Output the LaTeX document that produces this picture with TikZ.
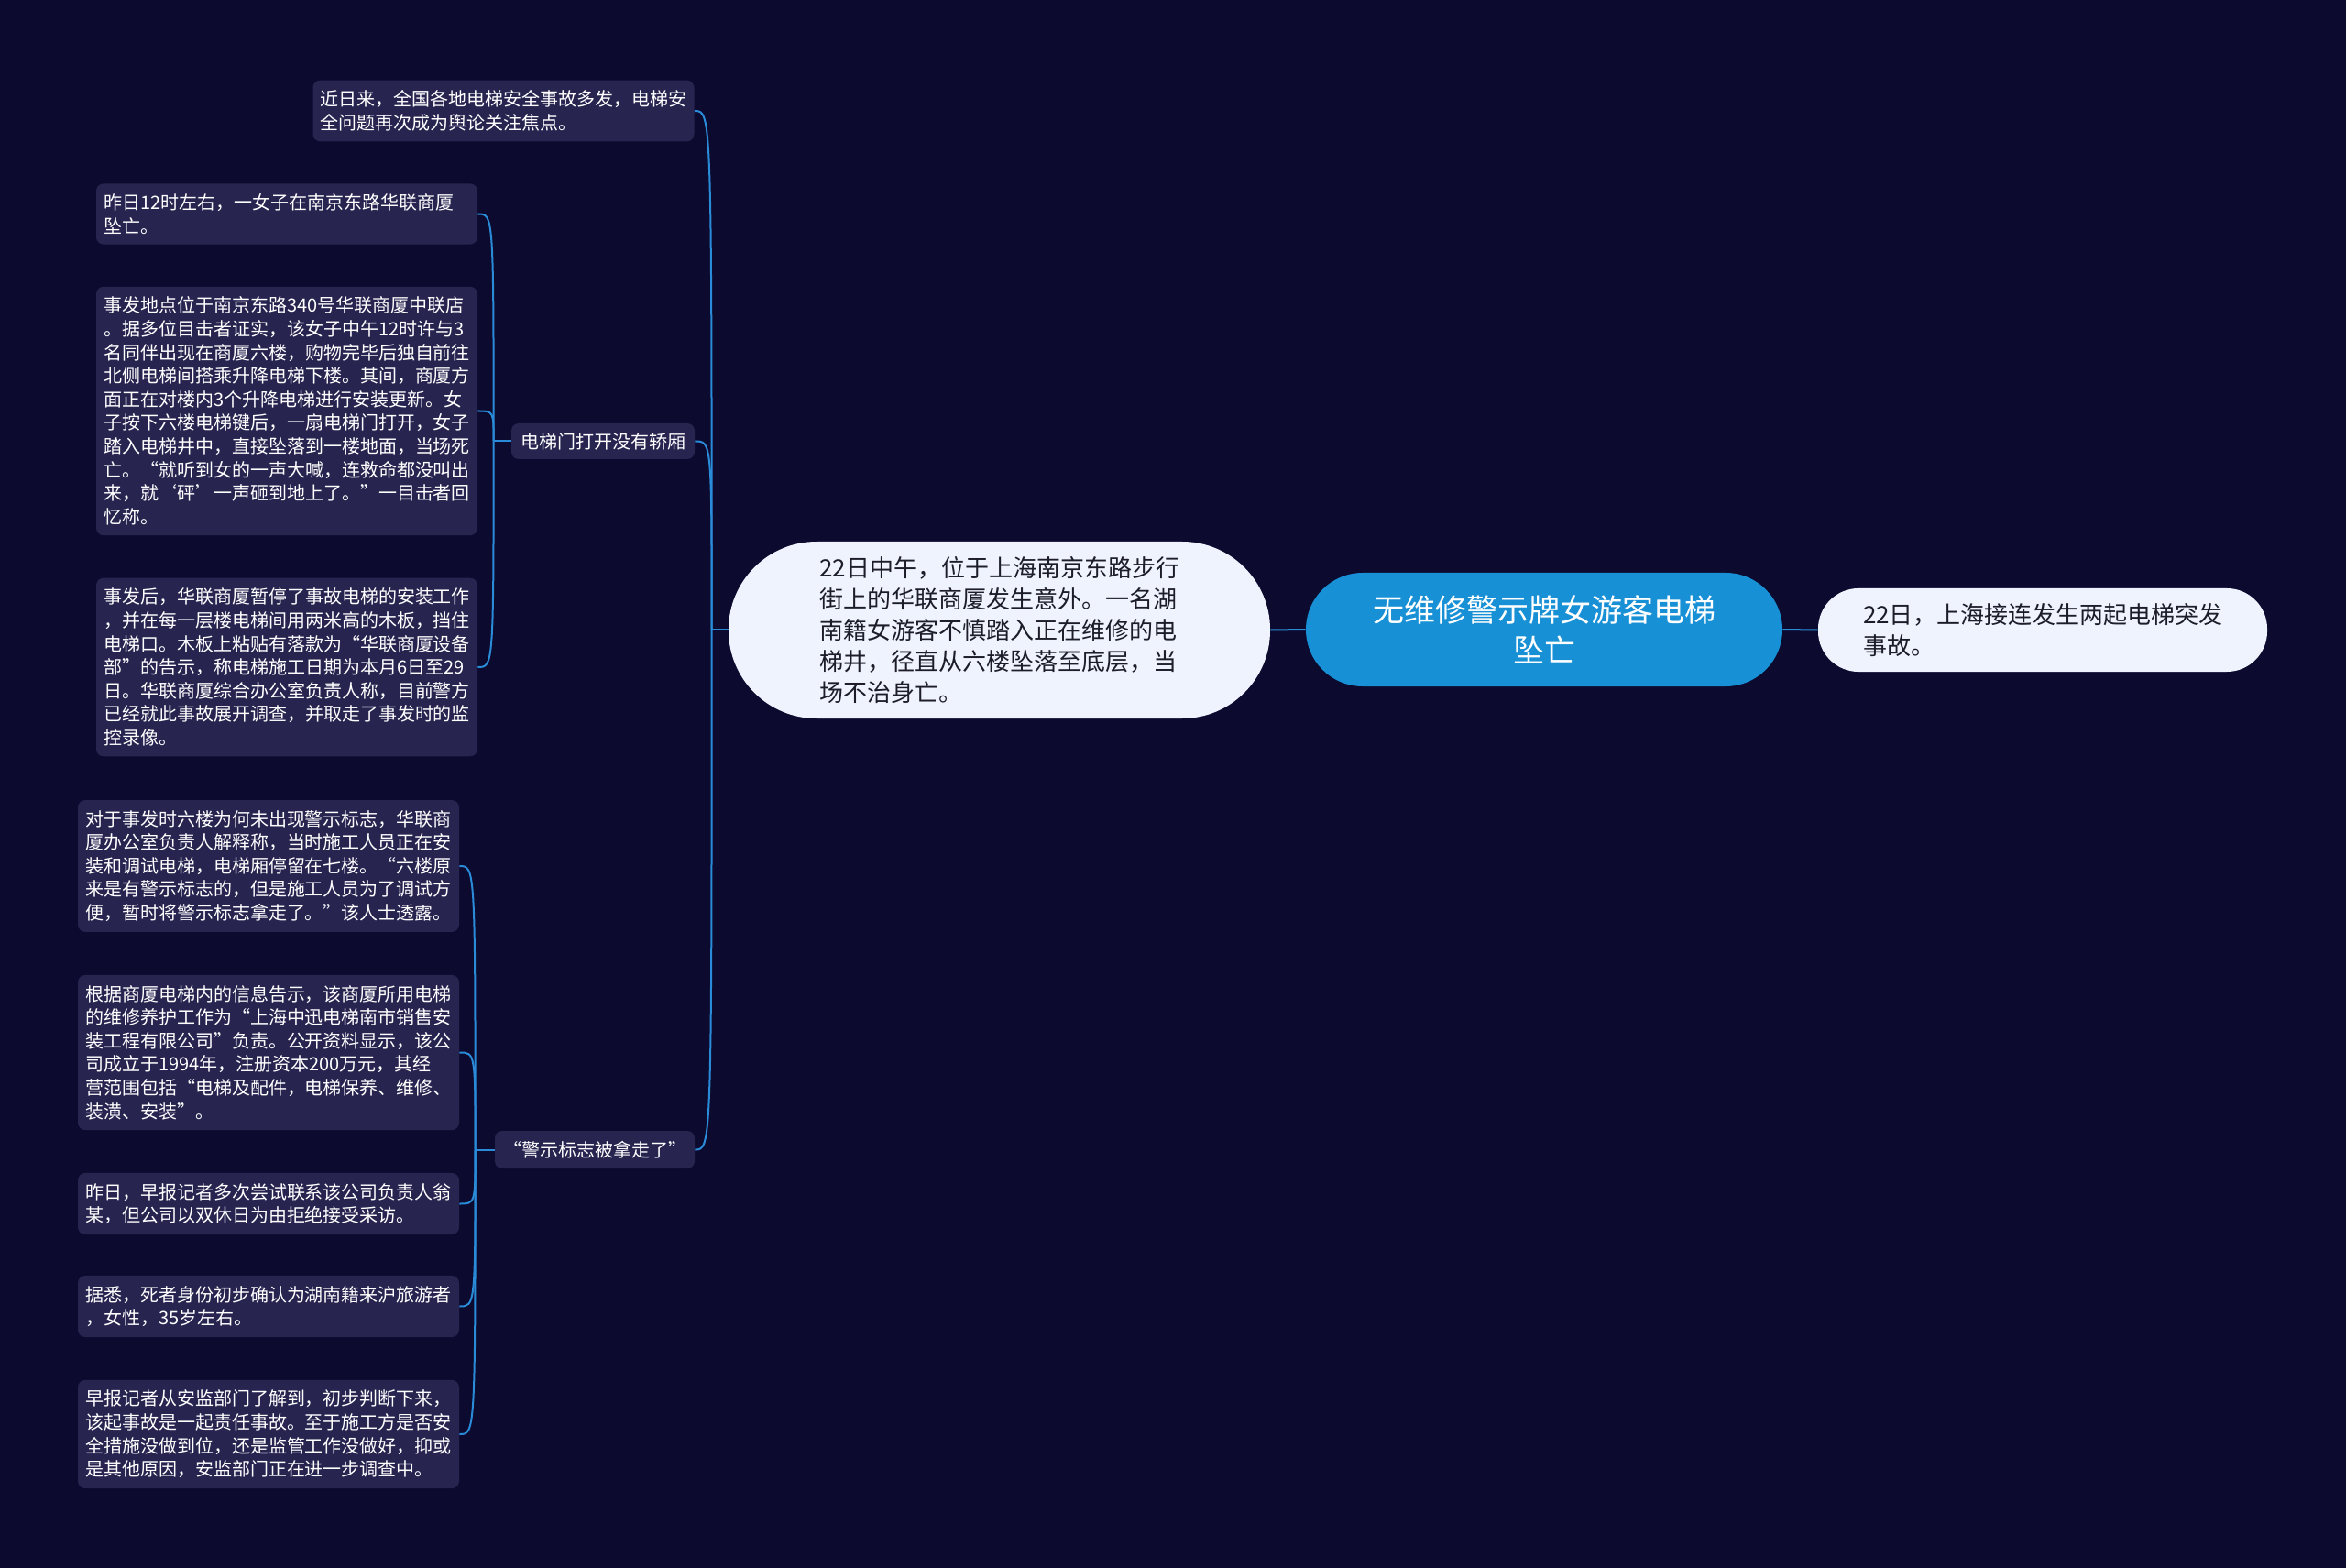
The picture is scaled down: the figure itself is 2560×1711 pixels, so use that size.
\documentclass[tikz,border=0pt]{standalone}
\usepackage{fontspec}
\setmainfont{Noto Sans CJK SC}
\usepackage{xcolor}
\usepackage{tikz}
\usetikzlibrary{positioning,calc}
\definecolor{bgnavy}{HTML}{0C0A2E}
\definecolor{leafbg}{HTML}{272450}
\definecolor{rootblue}{HTML}{1890D5}
\definecolor{paleblue}{HTML}{EEF3FD}
\definecolor{linkblue}{HTML}{2A8BD8}
\definecolor{inkdark}{HTML}{1C1C2A}
\tikzset{
  leaf/.style={fill=leafbg,rounded corners=4pt,text=white,align=left,text width=200pt,
    inner xsep=4pt,inner ysep=5.6pt,font=\fontsize{10}{12.8}\selectfont},
  branch/.style={fill=leafbg,rounded corners=4pt,text=white,inner xsep=5pt,inner ysep=0pt,
    minimum height=19.5pt,font=\fontsize{10}{12.8}\selectfont},
  topic/.style={fill=paleblue,text=inkdark,align=left,text width=196pt,
    font=\fontsize{13}{17}\selectfont},
  rootnode/.style={fill=rootblue,text=white,align=center,rounded corners=31pt,
    minimum width=260pt,minimum height=62pt,font=\fontsize{17}{22}\selectfont},
  link/.style={draw=linkblue,line width=1pt}
}

\begin{document}
\begin{tikzpicture}[x=0.5pt,y=-0.5pt]
\fill[bgnavy] (0,0) rectangle (2560,1711);
\useasboundingbox (0,0) rectangle (2560,1711);

\node[rootnode] (root) at (1685,687) {无维修警示牌女游客电梯\\坠亡};
\node[topic, rounded corners=22pt, minimum width=245pt, minimum height=45.5pt] (news) at (2229,687.5)
  {22日，上海接连发生两起电梯突发\\事故。};
\node[topic, rounded corners=48pt, minimum width=295.5pt, minimum height=96.5pt] (main) at (1090.5,687.5)
  {22日中午，位于上海南京东路步行\\街上的华联商厦发生意外。一名湖\\南籍女游客不慎踏入正在维修的电\\梯井，径直从六楼坠落至底层，当\\场不治身亡。};

\node[leaf] (intro) at (549.5,121) {近日来，全国各地电梯安全事故多发，电梯安\\全问题再次成为舆论关注焦点。};
\node[branch] (door) at (658,481.5) {电梯门打开没有轿厢};
\node[branch, inner xsep=4.5pt, minimum height=20.5pt] (sign) at (649,1254.5) {“警示标志被拿走了”};

\node[leaf] (fall) at (313,233.5) {昨日12时左右，一女子在南京东路华联商厦\\坠亡。};
\node[leaf] (scene) at (313,448.5) {事发地点位于南京东路340号华联商厦中联店\\。据多位目击者证实，该女子中午12时许与3\\名同伴出现在商厦六楼，购物完毕后独自前往\\北侧电梯间搭乘升降电梯下楼。其间，商厦方\\面正在对楼内3个升降电梯进行安装更新。女\\子按下六楼电梯键后，一扇电梯门打开，女子\\踏入电梯井中，直接坠落到一楼地面，当场死\\亡。“就听到女的一声大喊，连救命都没叫出\\来，就‘砰’一声砸到地上了。”一目击者回\\忆称。};
\node[leaf] (after) at (313,728) {事发后，华联商厦暂停了事故电梯的安装工作\\，并在每一层楼电梯间用两米高的木板，挡住\\电梯口。木板上粘贴有落款为“华联商厦设备\\部”的告示，称电梯施工日期为本月6日至29\\日。华联商厦综合办公室负责人称，目前警方\\已经就此事故展开调查，并取走了事发时的监\\控录像。};

\node[leaf] (explain) at (293,945) {对于事发时六楼为何未出现警示标志，华联商\\厦办公室负责人解释称，当时施工人员正在安\\装和调试电梯，电梯厢停留在七楼。“六楼原\\来是有警示标志的，但是施工人员为了调试方\\便，暂时将警示标志拿走了。”该人士透露。};
\node[leaf] (company) at (293,1148.5) {根据商厦电梯内的信息告示，该商厦所用电梯\\的维修养护工作为“上海中迅电梯南市销售安\\装工程有限公司”负责。公开资料显示，该公\\司成立于1994年，注册资本200万元，其经\\营范围包括“电梯及配件，电梯保养、维修、\\装潢、安装”。};
\node[leaf] (refuse) at (293,1313.5) {昨日，早报记者多次尝试联系该公司负责人翁\\某，但公司以双休日为由拒绝接受采访。};
\node[leaf] (victim) at (293,1425.5) {据悉，死者身份初步确认为湖南籍来沪旅游者\\，女性，35岁左右。};
\node[leaf] (probe) at (293,1565) {早报记者从安监部门了解到，初步判断下来，\\该起事故是一起责任事故。至于施工方是否安\\全措施没做到位，还是监管工作没做好，抑或\\是其他原因，安监部门正在进一步调查中。};

\draw[link] (root.east) -- (news.west);
\draw[link] (root.west) -- (main.east);

\draw[link] (main.west) -- ++(-18,0) coordinate (mt);
\foreach \kid in {intro,door,sign}
  \draw[link] (mt) .. controls (mt |- \kid.east) .. (\kid.east);

\draw[link] (door.west) -- ++(-19,0) coordinate (dt);
\foreach \kid in {fall,scene,after}
  \draw[link] (dt) .. controls (dt |- \kid.east) .. (\kid.east);

\draw[link] (sign.west) -- ++(-21,0) coordinate (st);
\foreach \kid in {explain,company,refuse,victim,probe}
  \draw[link] (st) .. controls (st |- \kid.east) .. (\kid.east);
\end{tikzpicture}
\end{document}
